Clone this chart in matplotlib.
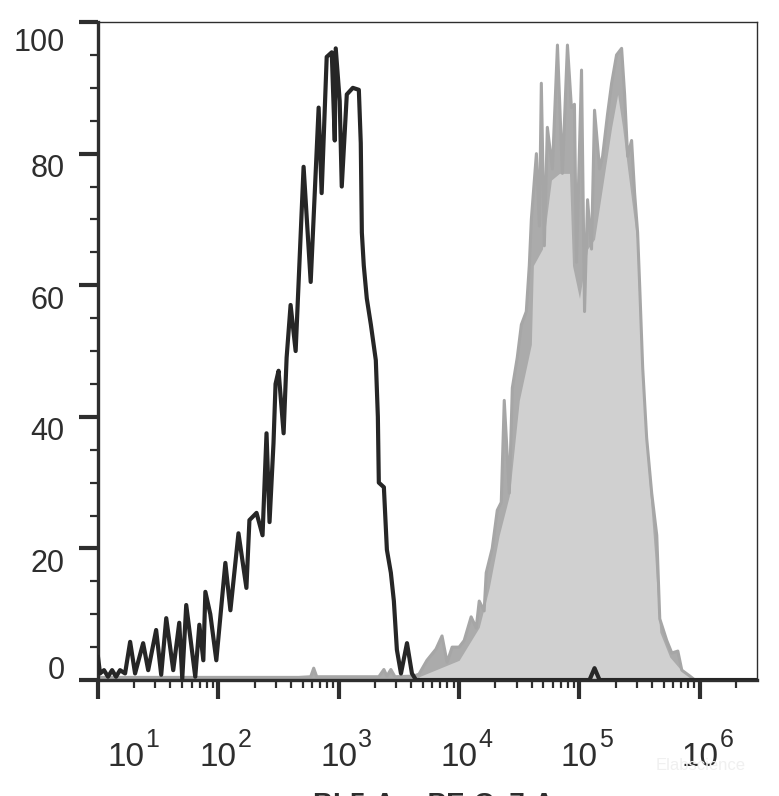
import numpy as np
import matplotlib
matplotlib.use("Agg")
import matplotlib.pyplot as plt
from matplotlib.ticker import FixedLocator, LogLocator, NullFormatter

plt.rcParams['font.family'] = ['Liberation Sans', 'DejaVu Sans']

# histogram traces, x given as log10 of channel value, y as % of max
black_log = [1.000, 1.017, 1.050, 1.083, 1.117, 1.150, 1.183, 1.225, 1.267, 1.308,
             1.375, 1.417, 1.483, 1.525, 1.567, 1.625, 1.675, 1.700, 1.733, 1.808,
             1.842, 1.875, 1.892, 1.933, 1.983, 2.058, 2.100, 2.167, 2.233, 2.258,
             2.317, 2.367, 2.400, 2.425, 2.458, 2.475, 2.500, 2.542, 2.567, 2.600,
             2.642, 2.708, 2.767, 2.833, 2.858, 2.900, 2.942, 2.967, 2.975, 3.008,
             3.025, 3.067, 3.117, 3.167, 3.183, 3.192, 3.208, 3.233, 3.267, 3.308,
             3.325, 3.333, 3.375, 3.400, 3.433, 3.458, 3.483, 3.517, 3.567, 3.608,
             3.642, 5.083, 5.125, 5.167, 6.475]
black_val = [3.5, 1.0, 1.5, 0.5, 1.5, 0.5, 1.5, 1.0, 5.8, 1.0,
             5.6, 1.5, 7.6, 0.8, 9.4, 1.5, 8.7, 0.2, 11.4, 0.5,
             8.4, 3.0, 13.4, 10.0, 3.0, 17.8, 10.6, 22.3, 14.0, 24.3,
             25.4, 22.0, 37.5, 24.0, 36.0, 45.0, 47.0, 37.5, 49.0, 57.0,
             50.0, 78.0, 60.5, 87.0, 74.0, 94.7, 95.4, 82.0, 96.0, 88.0,
             75.0, 89.0, 90.0, 89.7, 81.6, 68.0, 63.0, 58.0, 54.0, 48.6,
             40.0, 30.0, 29.3, 19.8, 16.3, 12.0, 4.6, 1.0, 5.6, 1.0,
             0.0, 0.0, 1.8, 0.0, 0.0]

# stained sample: spiky outline
gray_log = [1.000, 2.667, 2.767, 2.792, 2.817, 3.333, 3.375, 3.400, 3.433, 3.467,
            3.625, 3.667, 3.733, 3.808, 3.858, 3.900, 3.942, 4.000, 4.042, 4.100,
            4.142, 4.167, 4.208, 4.225, 4.275, 4.317, 4.350, 4.375, 4.417, 4.442,
            4.483, 4.517, 4.558, 4.583, 4.600, 4.642, 4.667, 4.683, 4.708, 4.733,
            4.775, 4.817, 4.858, 4.900, 4.933, 4.958, 4.975, 5.017, 5.042, 5.067,
            5.100, 5.125, 5.167, 5.192, 5.233, 5.267, 5.308, 5.350, 5.375, 5.400,
            5.433, 5.458, 5.483, 5.500, 5.525, 5.558, 5.600, 5.642, 5.667, 5.725,
            5.767, 5.817, 5.850, 5.917, 5.958, 6.475]
gray_val = [0.4, 0.4, 0.5, 1.8, 0.5, 0.5, 1.6, 0.6, 1.6, 0.5,
            0.6, 0.9, 3.0, 4.7, 6.7, 2.7, 5.0, 5.0, 6.0, 9.6,
            7.9, 12.0, 10.5, 16.3, 20.0, 25.8, 27.0, 42.5, 28.4, 44.4,
            49.0, 54.0, 56.0, 63.0, 70.0, 80.0, 69.0, 90.7, 66.0, 84.0,
            77.7, 96.5, 77.0, 96.5, 87.0, 87.5, 63.5, 92.7, 56.0, 73.0,
            65.5, 86.6, 77.7, 79.6, 86.0, 90.7, 95.0, 96.0, 89.0, 79.6,
            82.0, 74.0, 68.0, 60.0, 47.5, 36.8, 28.4, 22.0, 9.3, 6.0,
            4.1, 4.4, 1.5, 0.6, 0.0, 0.0]

# lower edge of the spiky band (top of the light fill)
env_log = [3.667, 4.000, 4.167, 4.250, 4.333, 4.417, 4.500, 4.600, 4.617, 4.692,
           4.725, 4.767, 4.833, 4.917, 4.942, 5.000, 5.067, 5.125, 5.192, 5.267,
           5.317, 5.358, 5.400, 5.475, 5.500, 5.558, 5.625, 5.667, 5.750, 5.858,
           5.958]
env_val = [0.5, 3.0, 8.0, 14.0, 22.0, 28.0, 42.5, 51.0, 63.0, 65.5,
           70.0, 76.0, 77.0, 77.0, 63.0, 58.0, 65.5, 67.0, 75.0, 84.0,
           89.0, 84.0, 77.7, 67.0, 54.0, 35.0, 19.0, 7.3, 3.5, 1.2,
           0.0]

x_decades = [1, 2, 3, 4, 5, 6]
y_major = [0, 20, 40, 60, 80, 100]
y_minor = [5, 10, 15, 25, 30, 35, 45, 50, 55, 65, 70, 75, 85, 90, 95]

AX_COL = '#2e2e2e'

fig = plt.figure(figsize=(7.79, 7.96), dpi=100)
ax = fig.add_axes([0.1258, 0.1457, 0.846, 0.8266])

gx = 10 ** np.array(gray_log)
ex = 10 ** np.array(env_log)
bx = 10 ** np.array(black_log)
ax.fill_between(gx, 0, gray_val, color='#ababab', linewidth=0, zorder=1)
ax.fill_between(ex, 0, env_val, color='#d0d0d0', linewidth=0, zorder=1.5)
ax.plot(gx, gray_val, color='#a6a6a6', linewidth=2.2, zorder=2)
ax.plot(bx, black_val, color='#262626', linewidth=3.0, zorder=3)

ax.set_xscale('log')
ax.set_xlim(10, 10 ** 6.475)
ax.set_ylim(0, 100)

ax.xaxis.set_major_locator(FixedLocator([10 ** d for d in x_decades]))
ax.xaxis.set_minor_locator(LogLocator(base=10, subs=np.arange(2, 10), numticks=20))
ax.xaxis.set_minor_formatter(NullFormatter())
ax.yaxis.set_major_locator(FixedLocator(y_major))
ax.yaxis.set_minor_locator(FixedLocator(y_minor))

ax.tick_params(which='major', length=14, width=3, color=AX_COL,
               labelbottom=False, labelleft=False)
ax.tick_params(which='minor', length=6, width=1.6, color=AX_COL)

for side in ['left', 'bottom']:
    ax.spines[side].set_linewidth(2.4)
    ax.spines[side].set_color(AX_COL)
for side in ['top', 'right']:
    ax.spines[side].set_linewidth(1.0)
    ax.spines[side].set_color(AX_COL)

# y labels sit a little off their ticks, like the original export
for v in y_major:
    if v == 0:
        dy = 6.5
    elif v == 100:
        dy = -15
    else:
        dy = -11
    ax.annotate(str(v), xy=(0, v), xycoords=('axes fraction', 'data'),
                xytext=(-24, dy), textcoords='offset points',
                ha='right', va='center', fontsize=22, color=AX_COL)

# x labels as 10 with a raised exponent
for d in x_decades:
    shift = 20 if d == 1 else 0
    ax.annotate('10', xy=(10 ** d, 0), xycoords=('data', 'axes fraction'),
                xytext=(shift, -62), textcoords='offset points',
                ha='center', va='baseline', fontsize=24, color=AX_COL)
    ax.annotate(str(d), xy=(10 ** d, 0), xycoords=('data', 'axes fraction'),
                xytext=(shift + 14, -48), textcoords='offset points',
                ha='left', va='baseline', fontsize=18, color=AX_COL)

# axis title is mostly cut off by the bottom edge in the original
fig.text(0.556, -0.0205, 'BL5-A :: PE-Cy7-A', ha='center', va='baseline',
         fontsize=20, fontweight='bold', color=AX_COL)
fig.text(0.900, 0.038, 'Elabscience', ha='center', va='center',
         fontsize=12, color='#f0f0f0')

fig.savefig('out.png', dpi=100)
